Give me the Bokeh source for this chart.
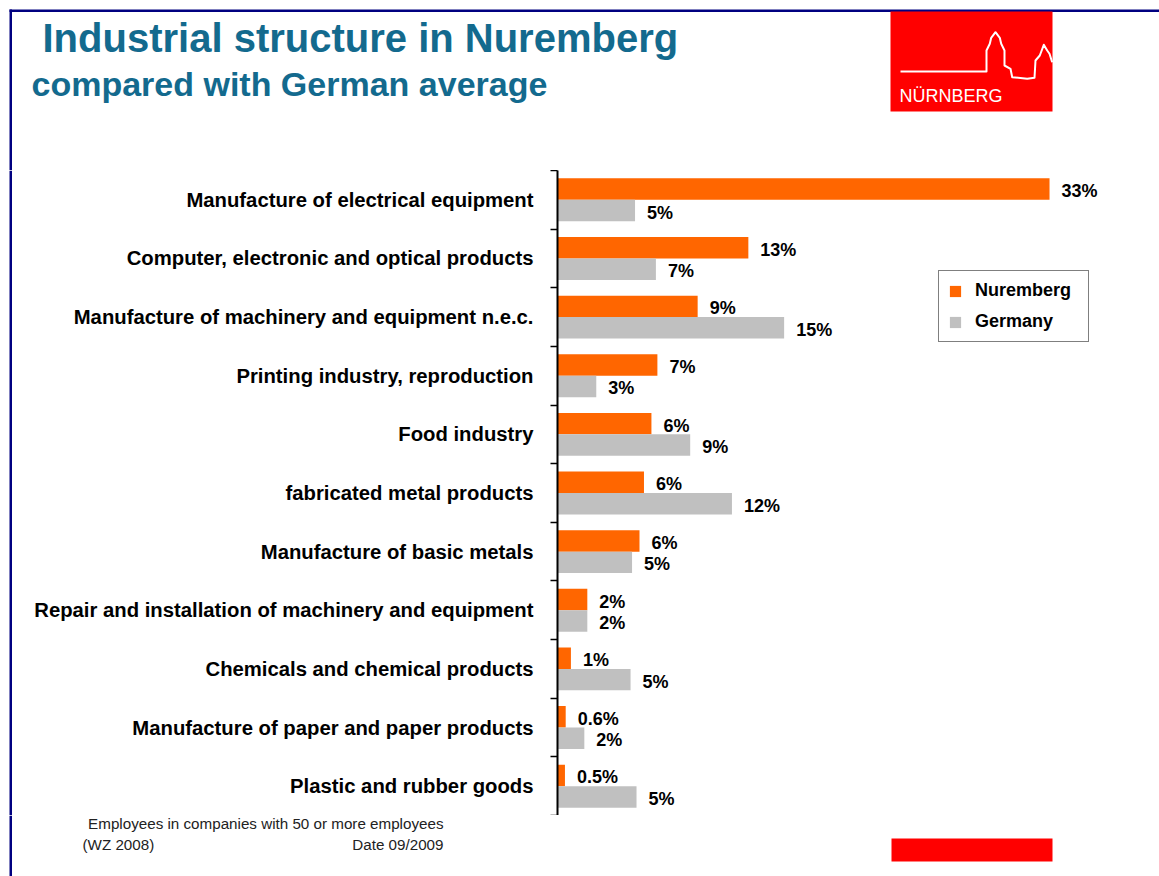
from bokeh.plotting import figure
from bokeh.layouts import column, row
from bokeh.models import (Range1d, FixedTicker, ColumnDataSource, LabelSet,
                          Legend, LegendItem)
from bokeh.core.properties import value
from bokeh.embed import file_html
from bokeh.resources import INLINE

# ---------------- data ----------------
categories = [
    "Manufacture of electrical equipment",
    "Computer, electronic and optical products",
    "Manufacture of machinery and equipment n.e.c.",
    "Printing industry, reproduction",
    "Food industry",
    "fabricated metal products",
    "Manufacture of basic metals",
    "Repair and installation of machinery and equipment",
    "Chemicals and chemical products",
    "Manufacture of paper and paper products",
    "Plastic and rubber goods",
]
nuremberg = [33.0, 12.8, 9.4, 6.7, 6.3, 5.8, 5.5, 2.0, 0.9, 0.55, 0.5]
germany = [5.2, 6.6, 15.2, 2.6, 8.9, 11.7, 5.0, 2.0, 4.9, 1.8, 5.3]
nuremberg_labels = ["33%", "13%", "9%", "7%", "6%", "6%", "6%", "2%", "1%", "0.6%", "0.5%"]
germany_labels = ["5%", "7%", "15%", "3%", "9%", "12%", "5%", "2%", "5%", "2%", "5%"]
series_names = ["Nuremberg", "Germany"]
series_colors = ["#FF6600", "#C0C0C0"]

title_text = "Industrial structure in Nuremberg"
subtitle_text = "compared with German average"
note_line1 = "Employees in companies with 50 or more employees"
note_left = "(WZ 2008)"
note_right = "Date 09/2009"
logo_text = "NÜRNBERG"

# ---------------- setup ----------------
SANS = "Liberation Sans"
TITLE_COLOR = "#136a8e"
NAVY = "#000080"
RED = "#FF0000"

W, H = 1159, 876
FL, FT, FB = 557, 170, 815          # plot frame left / top / bottom (page pixels)
STRIP = 12                          # width of the left slide-border strip
PX_PER_PCT = 14.91

def blank(width, height, x0, x1, y_top, y_bottom):
    f = figure(width=width, height=height, output_backend="svg", toolbar_location=None,
               x_range=Range1d(x0, x1), y_range=Range1d(y_bottom, y_top),
               x_axis_location=None, y_axis_location=None, min_border=0)
    f.outline_line_color = None
    f.grid.visible = False
    f.background_fill_color = "white"
    f.border_fill_color = "white"
    return f

def put_text(f, x, y_base, s, size, bold=False, color="black", align="left"):
    f.text(x=[x], y=[y_base - 0.35 * size], text=[s], text_font=value(SANS),
           text_font_size=f"{size}px", text_font_style="bold" if bold else "normal",
           text_color=color, text_align=align, text_baseline="middle")

# ---------------- header (title + logo) ----------------
header = blank(W, FT, 0, W, 0, FT)
header.quad(left=[9], right=[W], top=[9], bottom=[11.5], fill_color=NAVY, line_color=None)
header.quad(left=[9], right=[11.5], top=[9], bottom=[FT], fill_color=NAVY, line_color=None)
header.quad(left=[890], right=[1052], top=[11], bottom=[111], fill_color=RED, line_color=None)
castle_x = [900, 986, 986, 989.3, 990.7, 995, 999.3, 1000.7, 1004, 1004, 1010,
            1011.7, 1026.7, 1034, 1035, 1039.3, 1043.3, 1046.7, 1049, 1051.7]
castle_y = [71, 71, 50, 43.3, 37.3, 31.7, 37.3, 43.3, 50, 65, 68.3,
            76.7, 78.3, 77.3, 60, 55, 44.3, 50, 53.3, 61.7]
header.line(x=castle_x, y=castle_y, line_color="white", line_width=2, line_join="round")
put_text(header, 899, 102, logo_text, 18, color="white")
put_text(header, 42, 51, title_text, 40, bold=True, color=TITLE_COLOR)
put_text(header, 31, 95, subtitle_text, 34, bold=True, color=TITLE_COLOR)

# ---------------- left border strip ----------------
strip = blank(STRIP, FB - FT, 0, STRIP, FT, FB)
strip.quad(left=[9], right=[11.5], top=[FT], bottom=[FB], fill_color=NAVY, line_color=None)

# ---------------- main chart ----------------
n = len(categories)
centers = [i + 0.5 for i in range(n)]
BAR_H = 0.366

src_n = ColumnDataSource(dict(y=[c - BAR_H / 2 for c in centers], v=nuremberg,
                              t=nuremberg_labels))
src_g = ColumnDataSource(dict(y=[c + BAR_H / 2 for c in centers], v=germany,
                              t=germany_labels))

p = figure(width=W - STRIP, height=FB - FT, output_backend="svg", toolbar_location=None,
           x_range=Range1d(0, (W - FL) / PX_PER_PCT), y_range=Range1d(n, 0),
           x_axis_location=None, y_axis_location="left",
           min_border_left=FL - STRIP, min_border_right=0,
           min_border_top=0, min_border_bottom=0)
p.outline_line_color = None
p.xgrid.visible = False
p.ygrid.visible = False
p.background_fill_color = "white"
p.border_fill_color = "white"

r_n = p.hbar(y="y", left=0, right="v", height=BAR_H, source=src_n,
             fill_color=series_colors[0], line_color=None)
r_g = p.hbar(y="y", left=0, right="v", height=BAR_H, source=src_g,
             fill_color=series_colors[1], line_color=None)

for src in (src_n, src_g):
    p.add_layout(LabelSet(x="v", y="y", text="t", source=src, x_offset=12, y_offset=-2,
                          text_baseline="middle", text_align="left",
                          text_font=value(SANS), text_font_style="bold",
                          text_font_size="18px", text_color="black"))

ax = p.yaxis[0]
ax.ticker = FixedTicker(ticks=centers, minor_ticks=list(range(n + 1)))
ax.major_label_overrides = {c: lab for c, lab in zip(centers, categories)}
ax.major_tick_line_color = None
ax.major_tick_out = 0
ax.major_tick_in = 0
ax.minor_tick_out = 7
ax.minor_tick_in = 0
ax.minor_tick_line_color = "black"
ax.minor_tick_line_width = 1.5
ax.axis_line_color = "black"
ax.axis_line_width = 2
ax.major_label_standoff = 17
ax.major_label_text_font = SANS
ax.major_label_text_font_style = "bold"
ax.major_label_text_font_size = "20.3px"
ax.major_label_text_color = "black"

legend = Legend(items=[LegendItem(label=series_names[0], renderers=[r_n]),
                       LegendItem(label=series_names[1], renderers=[r_g])],
                location=(938 - FL, FB - 342), orientation="vertical",
                glyph_width=14, glyph_height=14, label_height=21, label_width=104,
                spacing=10, padding=9, margin=0, label_standoff=13,
                label_text_font=SANS, label_text_font_style="bold",
                label_text_font_size="18px", label_text_color="black",
                border_line_color="black", border_line_width=1,
                background_fill_color="white", background_fill_alpha=1)
p.add_layout(legend, "center")

# ---------------- footer ----------------
footer = blank(W, H - FB, 0, W, FB, H)
footer.quad(left=[9], right=[11.5], top=[FB], bottom=[H], fill_color=NAVY, line_color=None)
footer.quad(left=[891], right=[1052], top=[838], bottom=[861], fill_color=RED, line_color=None)
put_text(footer, 443, 828, note_line1, 15.2, color="#222222", align="right")
put_text(footer, 82, 849, note_left, 15.2, color="#222222")
put_text(footer, 443, 849, note_right, 15.2, color="#222222", align="right")

page = column(header, row(strip, p, spacing=0), footer, spacing=0)

open("out.html", "w").write(file_html(page, INLINE))
